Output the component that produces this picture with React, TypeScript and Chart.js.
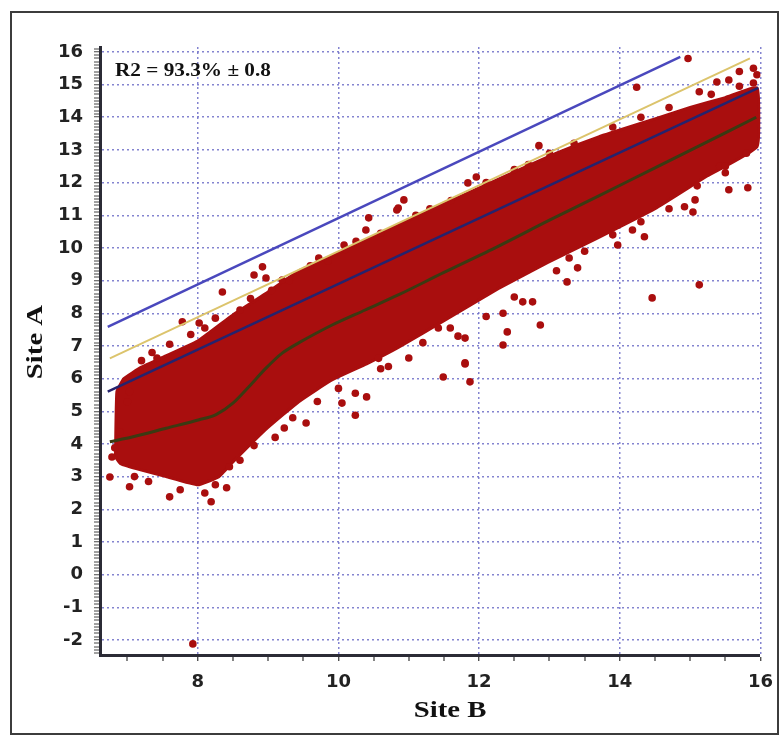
import React, { useEffect, useRef } from "react";
import { Chart, registerables } from "chart.js";

Chart.register(...registerables);

// ---- axis labels ----
const xLabelTicks = [8, 10, 12, 14, 16];
const yLabelTicks = [-2, -1, 0, 1, 2, 3, 4, 5, 6, 7, 8, 9, 10, 11, 12, 13, 14, 15, 16];
const xTitle = "Site B";
const yTitle = "Site A";
const r2Text = "R2 = 93.3% \u00b1 0.8";

// ---- dense cloud outline (upper edge, left -> right) ----
const cloudUpperX = [6.83, 6.85, 6.95, 7.2, 7.5, 8.0, 8.5, 9.0, 9.44, 10.0, 10.85, 11.5, 12.27, 13.1, 13.7, 14.5, 15.0, 15.5, 15.95];
const cloudUpperY = [3.6, 5.6, 6.0, 6.35, 6.65, 7.15, 7.95, 8.65, 9.3, 9.85, 10.7, 11.35, 12.1, 12.9, 13.4, 13.95, 14.3, 14.6, 14.9];
// ---- dense cloud outline (lower edge, right -> left) ----
const cloudLowerX = [15.95, 15.24, 14.5, 13.68, 12.97, 12.27, 11.56, 10.85, 10.4, 9.9, 9.44, 8.97, 8.5, 8.3, 8.0, 7.55, 7.2, 6.9];
const cloudLowerY = [13.1, 12.2, 11.2, 10.3, 9.55, 8.75, 7.85, 6.95, 6.45, 5.95, 5.3, 4.45, 3.45, 3.0, 2.75, 3.0, 3.2, 3.4];

// ---- individual scattered points ----
const pointX = [
  8.92, 8.8, 8.97, 8.35, 7.78, 8.02, 7.42, 10.43, 10.39, 10.83, 9.72, 9.2, 10.08,
  14.97, 14.24, 12.85, 15.9, 15.7, 15.55, 15.38, 15.13, 15.9, 11.96, 11.84, 10.93, 10.85,
  15.82, 15.55, 15.5, 15.42, 15.07, 15.04, 14.92, 14.35, 14.18, 13.97, 15.13, 14.46, 13.28, 13.4, 13.25,
  12.76, 12.62, 12.87, 12.34, 12.4, 12.34, 11.8, 11.8, 11.0, 11.42, 11.59, 11.49, 11.87, 11.8, 10.57, 10.71,
  7.93, 6.75, 7.03, 7.6, 8.19, 8.41, 8.45, 6.78, 6.82, 9.54, 9.23, 10.24, 10.05, 10.24, 10.4, 7.03, 7.0, 6.89,
  7.2, 7.35, 7.6, 7.9, 8.1, 8.25, 8.6, 8.75, 9.05, 9.3, 9.6, 9.85, 10.1, 10.25, 10.6, 11.1, 11.3, 11.6,
  12.1, 12.5, 12.7, 13.0, 13.35, 13.9, 14.3, 14.7, 15.3, 15.7, 15.95,
  7.1, 7.3, 7.75, 8.1, 8.25, 8.6, 8.8, 9.1, 9.35, 9.7, 10.0, 10.6, 11.2, 11.7, 12.1, 12.5, 13.1, 13.5,
  13.9, 14.3, 14.7, 15.1, 15.5, 15.8,
];
const pointY = [
  9.42, 9.17, 9.08, 8.65, 7.74, 7.7, 6.63, 10.92, 10.55, 11.16, 9.69, 9.02, 10.09,
  15.8, 14.92, 13.13, 15.5, 15.4, 15.14, 15.08, 14.78, 15.05, 12.17, 11.99, 11.47, 11.22,
  11.84, 11.78, 12.3, 12.5, 11.47, 11.1, 11.26, 10.34, 10.55, 10.09, 8.87, 8.47, 9.69, 9.39, 8.96,
  8.35, 8.35, 7.64, 8.0, 7.43, 7.03, 7.24, 6.48, 6.63, 7.55, 7.55, 6.05, 5.9, 6.45, 6.62, 6.37,
  -2.12, 2.99, 2.69, 2.38, 2.23, 2.66, 3.3, 3.6, 3.88, 4.64, 4.49, 4.88, 5.25, 5.55, 5.44, 5.6, 5.29, 4.37,
  6.55, 6.8, 7.05, 7.35, 7.55, 7.85, 8.1, 8.45, 8.7, 9.0, 9.45, 9.6, 9.95, 10.2, 10.45, 11.0, 11.2, 11.45,
  12.0, 12.4, 12.55, 12.9, 13.2, 13.7, 14.0, 14.3, 14.7, 14.95, 15.3,
  3.0, 2.85, 2.6, 2.5, 2.75, 3.5, 3.95, 4.2, 4.8, 5.3, 5.7, 6.3, 7.1, 7.3, 7.9, 8.5, 9.3, 9.9,
  10.4, 10.8, 11.2, 11.9, 12.5, 12.9,
];

// ---- reference lines ----
const upperLineX = [6.72, 14.86];
const upperLineY = [7.58, 15.85];
const yellowLineX = [6.75, 15.85];
const yellowLineY = [6.62, 15.8];
const navyLineX = [6.72, 15.97];
const navyLineY = [5.6, 14.9];
// ---- smoothed fit curve ----
const fitX = [6.75, 7.08, 7.55, 8.02, 8.26, 8.5, 8.73, 8.97, 9.2, 9.44, 9.91, 10.38, 10.85, 11.5, 12.27, 13.0, 13.68, 14.5, 15.2, 15.94];
const fitY = [4.07, 4.22, 4.48, 4.74, 4.9, 5.25, 5.76, 6.32, 6.78, 7.1, 7.64, 8.1, 8.56, 9.25, 10.05, 10.85, 11.57, 12.45, 13.2, 14.0];

const zip = (xs: number[], ys: number[]) => xs.map((x, i) => ({ x, y: ys[i] }));
const isWhole = (v: number) => Math.abs(v - Math.round(v)) < 1e-6;

const RED = "#a90e0e";
const GRID = "rgba(110,110,200,0.85)";

function drawText(ctx: CanvasRenderingContext2D, text: string, x: number, y: number, font: string, sx: number, rot: number, align: CanvasTextAlign) {
  ctx.save();
  ctx.translate(x, y);
  if (rot) ctx.rotate(rot);
  ctx.scale(sx, 1);
  ctx.font = font;
  ctx.fillStyle = "#111";
  ctx.textAlign = align;
  ctx.textBaseline = "middle";
  ctx.fillText(text, 0, 0);
  ctx.restore();
}

const decorPlugin = {
  id: "decor",
  beforeDraw(chart: any) {
    const ctx = chart.ctx as CanvasRenderingContext2D;
    ctx.save();
    ctx.fillStyle = "#fff";
    ctx.fillRect(0, 0, chart.width, chart.height);
    ctx.strokeStyle = "#3c3c3c";
    ctx.lineWidth = 2;
    ctx.strokeRect(11, 12, 767, 722);
    ctx.restore();
  },
  afterDraw(chart: any) {
    const ctx = chart.ctx as CanvasRenderingContext2D;
    const ca = chart.chartArea;
    drawText(ctx, yTitle, 36, (ca.top + ca.bottom) / 2 - 9, "bold 23px 'Liberation Serif'", 1.25, -Math.PI / 2, "center");
    drawText(ctx, xTitle, 450, 711, "bold 23px 'Liberation Serif'", 1.25, 0, "center");
    drawText(ctx, r2Text, 115, 71, "bold 18px 'Liberation Serif'", 1.18, 0, "left");
  },
};

export default function App() {
  const ref = useRef<HTMLCanvasElement | null>(null);

  useEffect(() => {
    if (!ref.current) return;
    const cloud = [...zip(cloudUpperX, cloudUpperY), ...zip(cloudLowerX, cloudLowerY)];
    cloud.push({ ...cloud[0] });

    const chart = new Chart(ref.current, {
      type: "scatter",
      data: {
        datasets: [
          {
            type: "line",
            data: zip(fitX, fitY),
            borderColor: "#3b3a12",
            borderWidth: 3,
            pointRadius: 0,
            tension: 0.3,
            fill: false,
            order: 0,
          } as any,
          {
            type: "line",
            data: zip(navyLineX, navyLineY),
            borderColor: "#25236e",
            borderWidth: 2.5,
            pointRadius: 0,
            fill: false,
            order: 0,
          } as any,
          {
            type: "line",
            data: zip(yellowLineX, yellowLineY),
            borderColor: "#dcc46c",
            borderWidth: 2,
            pointRadius: 0,
            fill: false,
            order: 1,
          } as any,
          {
            type: "line",
            data: zip(upperLineX, upperLineY),
            borderColor: "#4a48bd",
            borderWidth: 2.5,
            pointRadius: 0,
            fill: false,
            order: 0,
          } as any,
          {
            type: "scatter",
            data: zip(pointX, pointY),
            backgroundColor: RED,
            borderWidth: 0,
            pointRadius: 3.8,
            order: 2,
          } as any,
          {
            type: "line",
            data: cloud,
            borderColor: RED,
            backgroundColor: RED,
            borderWidth: 3,
            pointRadius: 0,
            tension: 0.12,
            fill: "shape",
            order: 3,
          } as any,
        ],
      },
      options: {
        responsive: false,
        animation: false,
        events: [],
        layout: { padding: { left: 0, top: 47, right: 21, bottom: 0 } },
        plugins: {
          legend: { display: false },
          tooltip: { enabled: false },
        },
        scales: {
          x: {
            type: "linear",
            min: 6.61,
            max: 16,
            afterFit: (s: any) => {
              s.height = 82;
            },
            ticks: {
              stepSize: 0.5,
              includeBounds: false,
              autoSkip: false,
              maxRotation: 0,
              padding: 11,
              color: "#222",
              font: { family: "'DejaVu Sans'", weight: "bold", size: 18 },
              callback: (v: any) => {
                const n = Number(v);
                return isWhole(n) && xLabelTicks.includes(Math.round(n)) ? String(Math.round(n)) : "";
              },
            },
            grid: {
              color: GRID,
              lineWidth: (c: any) => (c.tick && isWhole(c.tick.value) && xLabelTicks.includes(Math.round(c.tick.value)) ? 1.5 : 0),
              tickLength: 6,
              tickColor: "#333",
              tickWidth: 1.2,
              tickBorderDash: [],
            },
            border: { display: true, color: "#2b2b35", width: 3, dash: [2, 3] },
          },
          y: {
            type: "linear",
            min: -2.46,
            max: 16.15,
            afterFit: (s: any) => {
              s.width = 100;
            },
            ticks: {
              stepSize: 0.1,
              includeBounds: false,
              autoSkip: false,
              padding: 11,
              color: "#222",
              font: { family: "'DejaVu Sans'", weight: "bold", size: 18 },
              callback: (v: any) => {
                const n = Number(v);
                return isWhole(n) && yLabelTicks.includes(Math.round(n)) ? String(Math.round(n)) : "";
              },
            },
            grid: {
              color: GRID,
              lineWidth: (c: any) => (c.tick && isWhole(c.tick.value) ? 1.5 : 0),
              tickLength: 6,
              tickColor: "#444",
              tickWidth: 1,
              tickBorderDash: [],
            },
            border: { display: true, color: "#2b2b35", width: 3, dash: [2, 3] },
          },
        },
      } as any,
      plugins: [decorPlugin],
    });
    return () => chart.destroy();
  }, []);

  return (
    <div style={{ position: "absolute", left: 0, top: 0, width: 784, height: 737 }}>
      <canvas ref={ref} width={784} height={737} style={{ display: "block" }} />
    </div>
  );
}
